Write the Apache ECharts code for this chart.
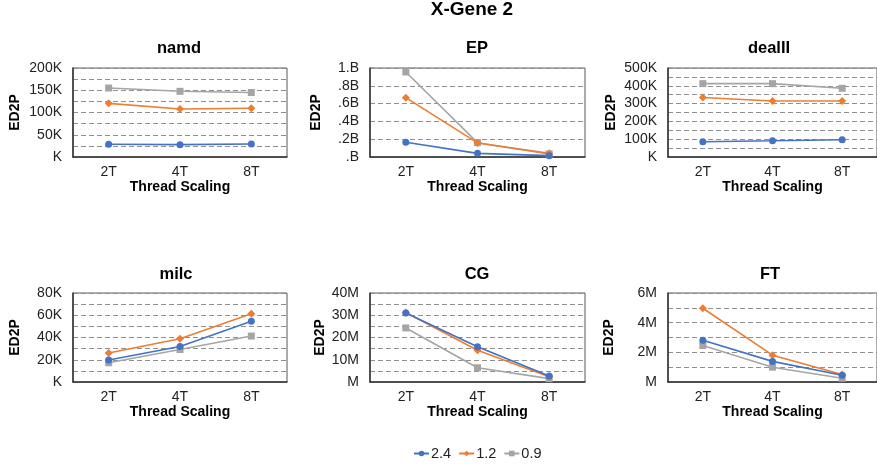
<!DOCTYPE html>
<html><head><meta charset="utf-8">
<script src="https://cdn.jsdelivr.net/npm/echarts@6/dist/echarts.min.js"></script>
<style>html,body{margin:0;padding:0;background:#fff}#c{width:877px;height:468px}</style>
</head><body><div id="c"></div>
<script>
// ---- data ----
const categories = ['2T', '4T', '8T'];
const seriesNames = ['2.4', '1.2', '0.9'];
const panelTitles = ['namd', 'EP', 'dealII', 'milc', 'CG', 'FT'];

// namd (K)
const namd_24 = [28.5, 27.8, 29.2];
const namd_12 = [120.6, 107.9, 109.4];
const namd_09 = [155, 147.6, 145];
// EP (B)
const ep_24 = [0.165, 0.041, 0.015];
const ep_12 = [0.667, 0.158, 0.041];
const ep_09 = [0.955, 0.161, 0.034];
// dealII (K)
const dealii_24 = [86, 91, 97];
const dealii_12 = [334, 315, 315];
const dealii_09 = [412, 412, 386];
// milc (K)
const milc_24 = [19.8, 31.9, 54.7];
const milc_12 = [26.1, 38.9, 61.4];
const milc_09 = [17.3, 29.2, 41.3];
// CG (M)
const cg_24 = [31.0, 15.8, 2.7];
const cg_12 = [31.2, 14.3, 2.4];
const cg_09 = [24.3, 6.4, 1.5];
// FT (M)
const ft_24 = [2.82, 1.39, 0.45];
const ft_12 = [4.97, 1.81, 0.51];
const ft_09 = [2.46, 1.0, 0.25];

// tick labels
const namdTicks = ['K', '50K', '100K', '150K', '200K'];
const epTicks = ['.B', '.2B', '.4B', '.6B', '.8B', '1.B'];
const dealiiTicks = ['K', '100K', '200K', '300K', '400K', '500K'];
const milcTicks = ['K', '20K', '40K', '60K', '80K'];
const cgTicks = ['M', '10M', '20M', '30M', '40M'];
const ftTicks = ['M', '2M', '4M', '6M'];

// ---- layout / style ----
const panels = [
  {data: [namd_24, namd_12, namd_09], ticks: namdTicks, max: 200, minor: 25, every: 2,
   left: 73, top: 68, width: 214, height: 89, titleX: 179, titleY: 40, nameGap: 51, xGap: 23},
  {data: [ep_24, ep_12, ep_09], ticks: epTicks, max: 1, minor: 0.2, every: 1,
   left: 370, top: 68, width: 215, height: 89, titleX: 477, titleY: 40, nameGap: 47, xGap: 23},
  {data: [dealii_24, dealii_12, dealii_09], ticks: dealiiTicks, max: 500, minor: 50, every: 2,
   left: 668, top: 68, width: 217, height: 89, titleX: 769, titleY: 40, nameGap: 50, xGap: 23},
  {data: [milc_24, milc_12, milc_09], ticks: milcTicks, max: 80, minor: 10, every: 2,
   left: 73, top: 293, width: 214, height: 89, titleX: 176, titleY: 266, nameGap: 51, xGap: 22},
  {data: [cg_24, cg_12, cg_09], ticks: cgTicks, max: 40, minor: 5, every: 2,
   left: 370, top: 293, width: 215, height: 89, titleX: 477, titleY: 266, nameGap: 43, xGap: 22},
  {data: [ft_24, ft_12, ft_09], ticks: ftTicks, max: 6, minor: 1, every: 2,
   left: 668, top: 293, width: 217, height: 89, titleX: 770, titleY: 266, nameGap: 52, xGap: 22}
];
const colors = ['#4472C4', '#ED7D31', '#A5A5A5'];
const symbols = ['circle', 'diamond', 'rect'];
const symbolSizes = [7, 8, 7];
const FONT = '"Liberation Sans", Arial, Helvetica, sans-serif';

const grid = [], xAxis = [], yAxis = [], series = [], title = [];
title.push({text: 'X-Gene 2', left: 472, textAlign: 'center', top: 0, padding: 0,
  textStyle: {fontFamily: FONT, fontSize: 19, fontWeight: 'bold', color: '#000'}});

panels.forEach((p, i) => {
  grid.push({left: p.left, top: p.top, width: p.width, height: p.height,
    show: true, borderColor: '#595959', borderWidth: 1, backgroundColor: 'transparent'});
  title.push({text: panelTitles[i], left: p.titleX, textAlign: 'center',
    top: p.titleY, padding: 0,
    textStyle: {fontFamily: FONT, fontSize: 16.5, fontWeight: 'bold', color: '#000'}});
  xAxis.push({type: 'category', gridIndex: i, data: categories, boundaryGap: true,
    name: 'Thread Scaling', nameLocation: 'middle', nameGap: p.xGap,
    nameTextStyle: {fontFamily: FONT, fontSize: 14, fontWeight: 'bold', color: '#000'},
    axisLine: {lineStyle: {color: '#333', width: 1.5}},
    axisTick: {show: false},
    axisLabel: {fontFamily: FONT, fontSize: 14, color: '#222', margin: 8},
    splitLine: {show: false}});
  yAxis.push({type: 'value', gridIndex: i, min: 0, max: p.max, interval: p.minor,
    name: 'ED2P', nameLocation: 'middle', nameGap: p.nameGap, nameRotate: 90,
    nameTextStyle: {fontFamily: FONT, fontSize: 14, fontWeight: 'bold', color: '#000'},
    axisLine: {show: true, lineStyle: {color: '#333', width: 1.5}},
    axisTick: {show: false},
    axisLabel: {fontFamily: FONT, fontSize: 14, color: '#222', margin: 11,
      formatter: (v) => {
        const k = Math.round(v / p.minor);
        if (k % p.every !== 0) return '';
        return p.ticks[k / p.every];
      }},
    splitLine: {show: true, lineStyle: {color: '#909090', type: [5, 3], width: 1}}});
  p.data.forEach((d, s) => {
    series.push({type: 'line', name: seriesNames[s], xAxisIndex: i, yAxisIndex: i,
      data: d, symbol: symbols[s], symbolSize: symbolSizes[s], showSymbol: true,
      lineStyle: {color: colors[s], width: 1.6}, itemStyle: {color: colors[s]},
      animation: false, z: 5 - s});
  });
});

const chart = echarts.init(document.getElementById('c'), null, {renderer: 'canvas'});
chart.setOption({
  animation: false,
  backgroundColor: '#fff',
  color: colors,
  title: title,
  grid: grid, xAxis: xAxis, yAxis: yAxis, series: series,
  legend: {data: seriesNames, left: 413, top: 446, itemWidth: 15, itemHeight: 7,
    itemGap: 7, padding: 0,
    textStyle: {fontFamily: FONT, fontSize: 14.5, color: '#222', padding: [0, 0, 0, -3]}}
});
</script></body></html>
